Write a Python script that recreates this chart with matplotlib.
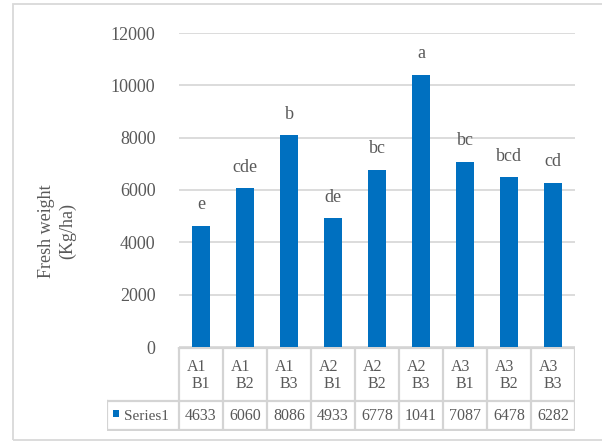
import matplotlib
matplotlib.use("Agg")
import matplotlib.pyplot as plt
from matplotlib.patches import Rectangle
from matplotlib.lines import Line2D

# ---- data ----
cat_a = ["A1", "A1", "A1", "A2", "A2", "A2", "A3", "A3", "A3"]
cat_b = ["B1", "B2", "B3", "B1", "B2", "B3", "B1", "B2", "B3"]
values = [4633, 6060, 8086, 4933, 6778, 10410, 7087, 6478, 6282]
letters = ["e", "cde", "b", "de", "bc", "a", "bc", "bcd", "cd"]
series_name = "Series1"
yticks = [0, 2000, 4000, 6000, 8000, 10000, 12000]

BAR = "#0070C0"
TXT = "#595959"
GRID = "#d9d9d9"
TBL = "#d4d4d4"
FONT = "Liberation Serif"

W, H = 602, 444
fig = plt.figure(figsize=(W / 100, H / 100), dpi=100)
plt.rcParams["font.family"] = [FONT, "DejaVu Serif"]


def px(x0, y0, x1, y1):
    return [x0 / W, 1 - y1 / H, (x1 - x0) / W, (y1 - y0) / H]


# chart border
fig.patches.append(Rectangle((13 / W, 1 - 440 / H), (640 - 13) / W, (440 - 4) / H,
                             transform=fig.transFigure, fill=False,
                             edgecolor=GRID, lw=1.3))

ax = fig.add_axes(px(179, 33, 575, 347))
n = len(values)
x = list(range(n))
ax.bar(x, values, width=0.41, color=BAR, zorder=3)
ax.set_xlim(-0.5, n - 0.5)
ax.set_ylim(0, 12000)
ax.set_yticks(yticks)
ax.set_yticklabels([str(t) for t in yticks], fontsize=13, color=TXT)
ax.tick_params(axis="y", length=0, pad=17)
ax.set_xticks([])
for s in ax.spines.values():
    s.set_visible(False)
ax.yaxis.grid(True, color=GRID, lw=1.3, zorder=0)
ax.set_axisbelow(True)
ax.patch.set_alpha(0)

for xi, v, lab in zip(x, values, letters):
    ax.annotate(lab, (xi, v), xytext=(0, 15), textcoords="offset points",
                ha="center", va="center", fontsize=13, color=TXT)

# y label
fig.text(57 / W, 1 - 231 / H, "Fresh weight\n(Kg/ha)", rotation=90,
         ha="center", va="center", fontsize=13, color=TXT,
         multialignment="center", linespacing=1.25)

# ---- data table ----
tax = fig.add_axes(px(107, 347, 575, 431))
left = -0.5 - (179 - 107) / 44.0
tax.set_xlim(left, n - 0.5)
tax.set_ylim(431, 347)
tax.axis("off")
tax.patch.set_alpha(0)
lw = 1.6
# horizontal lines
tax.add_line(Line2D([-0.5, n - 0.5], [348, 348], color=TBL, lw=lw))
tax.add_line(Line2D([left, n - 0.5], [401, 401], color=TBL, lw=lw))
tax.add_line(Line2D([left, n - 0.5], [430, 430], color=TBL, lw=lw))
# vertical lines
for i in range(n + 1):
    tax.add_line(Line2D([i - 0.5, i - 0.5], [348, 430], color=TBL, lw=lw))
tax.add_line(Line2D([left, left], [401, 430], color=TBL, lw=lw))

for xi, a, b, v in zip(x, cat_a, cat_b, values):
    tax.annotate(a, (xi, 367), xytext=(-3, 0), textcoords="offset points",
                 ha="center", va="center", fontsize=11.5, color=TXT)
    tax.annotate(b, (xi, 384), ha="center", va="center", fontsize=11.5, color=TXT)
    tax.text(xi, 416, str(v)[:4], ha="center", va="center", fontsize=11.5, color=TXT)

# legend key + series name
tax.add_patch(Rectangle((left + 6 / 44, 410), 6 / 44, 7, color=BAR, lw=0))
tax.text(left + 17 / 44, 416, series_name, ha="left", va="center",
         fontsize=11, color=TXT)

fig.savefig("out.png", dpi=100)
